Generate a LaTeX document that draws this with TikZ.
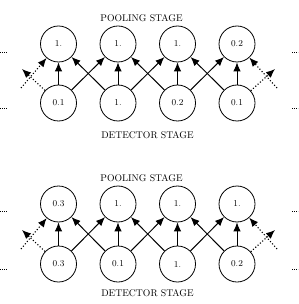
\documentclass[tikz,border=0pt]{standalone}
\usetikzlibrary{arrows.meta}
\begin{document}
\begin{tikzpicture}[x=1pt,y=-1pt,
  unit/.style={circle,draw,line width=0.8pt,minimum size=36pt,inner sep=0pt,font=\small},
  stagelabel/.style={font=\fontsize{9.7}{12}\selectfont,inner sep=0pt},
  conn/.style={line width=1pt,-{Latex[length=9pt,width=7.5pt]}},
  dconn/.style={line width=1.1pt,dash pattern=on 1.1pt off 2pt,-{Latex[length=9pt,width=7.5pt]}},
  dots/.style={line width=0.8pt,dash pattern=on 0.8pt off 1.2pt}]
\useasboundingbox (0,0) rectangle (298,304);
% ---------- top panel ----------
\node[stagelabel] (tpl) at (141.5,18) {POOLING STAGE};
\node[stagelabel] (tdl) at (147.5,135) {DETECTOR STAGE};
\node[unit] (tp1) at (58.5,44) {1.};
\node[unit] (tp2) at (118,44) {1.};
\node[unit] (tp3) at (177.5,44) {1.};
\node[unit] (tp4) at (237,44) {0.2};
\node[unit] (td1) at (58.5,103) {0.1};
\node[unit] (td2) at (118,103) {1.};
\node[unit] (td3) at (177.5,103) {0.2};
\node[unit] (td4) at (237,103) {0.1};
\foreach \i in {1,...,4}{\draw[conn] (td\i) -- (tp\i);}
\draw[conn] (td1) -- (tp2);
\draw[conn] (td2) -- (tp1);
\draw[conn] (td2) -- (tp3);
\draw[conn] (td3) -- (tp2);
\draw[conn] (td3) -- (tp4);
\draw[conn] (td4) -- (tp3);
\coordinate (tla) at (22,69);
\coordinate (tlb) at (21,88);
\coordinate (tra) at (275,69);
\coordinate (trb) at (277,88);
\draw[dconn] (td1) -- (tla);
\draw[dconn] (tlb) -- (tp1);
\draw[dconn] (td4) -- (tra);
\draw[dconn] (trb) -- (tp4);
\draw[dots] (0,52) -- (7,52);
\draw[dots] (0,108) -- (7,108);
\draw[dots] (292,52) -- (298,52);
\draw[dots] (292,108) -- (298,108);
% ---------- bottom panel ----------
\node[stagelabel] (bpl) at (141.5,178) {POOLING STAGE};
\node[stagelabel] (bdl) at (147.5,293) {DETECTOR STAGE};
\node[unit] (bp1) at (58.5,204) {0.3};
\node[unit] (bp2) at (118,204) {1.};
\node[unit] (bp3) at (177.5,204) {1.};
\node[unit] (bp4) at (237,204) {1.};
\node[unit] (bd1) at (58.5,264) {0.3};
\node[unit] (bd2) at (118,264) {0.1};
\node[unit] (bd3) at (177.5,264) {1.};
\node[unit] (bd4) at (237,264) {0.2};
\foreach \i in {1,...,4}{\draw[conn] (bd\i) -- (bp\i);}
\draw[conn] (bd1) -- (bp2);
\draw[conn] (bd2) -- (bp1);
\draw[conn] (bd2) -- (bp3);
\draw[conn] (bd3) -- (bp2);
\draw[conn] (bd3) -- (bp4);
\draw[conn] (bd4) -- (bp3);
\coordinate (bla) at (22,230);
\coordinate (blb) at (21,249);
\coordinate (bra) at (275,230);
\coordinate (brb) at (277,249);
\draw[dconn] (bd1) -- (bla);
\draw[dconn] (blb) -- (bp1);
\draw[dconn] (bd4) -- (bra);
\draw[dconn] (brb) -- (bp4);
\draw[dots] (0,211) -- (7,211);
\draw[dots] (0,269) -- (7,269);
\draw[dots] (292,211) -- (298,211);
\draw[dots] (292,269) -- (298,269);
\end{tikzpicture}
\end{document}
